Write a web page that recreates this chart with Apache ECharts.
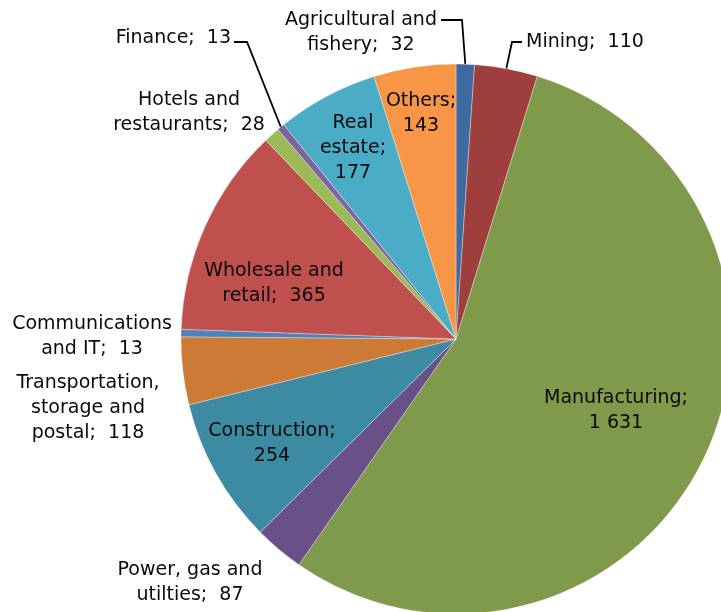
<!DOCTYPE html>
<html>
<head>
<meta charset="utf-8">
<script src="https://cdn.jsdelivr.net/npm/echarts@6/dist/echarts.min.js"></script>
<style>
html,body{margin:0;padding:0;background:#fff;}
#chart{width:721px;height:612px;}
</style>
</head>
<body>
<div id="chart"></div>
<script>
// Data (clockwise from 12 o'clock)
var categories = [
  "Agricultural and\nfishery", "Mining", "Manufacturing", "Power, gas and\nutilties",
  "Construction", "Transportation,\nstorage and\npostal", "Communications\nand IT",
  "Wholesale and\nretail", "Hotels and\nrestaurants", "Finance", "Real\nestate", "Others"
];
var values = [32, 110, 1631, 87, 254, 118, 13, 365, 28, 13, 177, 143];
var colors = ["#3E6A9F", "#9E3F3E", "#7F9A4A", "#6A5088", "#3C8BA3", "#CD7A37",
              "#4F81BD", "#C0504D", "#9BBB59", "#8064A2", "#4BACC6", "#F79646"];
// Items whose value goes on its own line
var valueOnNewLine = [false, false, true, false, true, false, false, false, false, false, true, true];
// Items whose labels are drawn with leader lines
var withLine = [true, true, false, false, false, false, false, false, false, true, false, false];

// Label placement (x, y, align)
var labelPos = [
  [361, 33, 'center'], [526, 42, 'left'], [616, 411, 'center'], [190, 583, 'center'],
  [272, 444, 'center'], [88, 408, 'center'], [92, 337, 'center'], [274, 284, 'center'],
  [189, 113, 'center'], [231, 38, 'right'], [353, 148, 'center'], [421, 114, 'center']
];
// leader line bends: [bendX, bendY, endX]
var linePath = {0: [462, 20, 441], 1: [512, 42, 522], 9: [247, 42, 234]};

function fmt(v) {
  var s = String(v);
  return s.replace(/\B(?=(\d{3})+(?!\d))/g, ' ');
}

var data = categories.map(function (c, i) {
  return {
    name: c,
    value: values[i],
    itemStyle: {color: colors[i]},
    label: {position: withLine[i] ? 'outside' : 'inside'},
    labelLine: {show: withLine[i]}
  };
});

var chart = echarts.init(document.getElementById('chart'), null, {renderer: 'canvas'});
chart.setOption({
  animation: false,
  backgroundColor: '#ffffff',
  series: [{
    type: 'pie',
    center: [456, 339],
    radius: [0, 275],
    startAngle: 90,
    clockwise: true,
    avoidLabelOverlap: false,
    data: data,
    itemStyle: {borderColor: 'rgba(255,255,255,0.55)', borderWidth: 0.6},
    label: {
      show: true,
      color: '#0a0a0a',
      fontFamily: 'DejaVu Sans',
      fontSize: 19,
      lineHeight: 25,
      formatter: function (p) {
        var i = p.dataIndex;
        return p.name + ';' + (valueOnNewLine[i] ? '\n' : '  ') + fmt(p.value);
      }
    },
    labelLine: {
      show: false,
      lineStyle: {color: '#000', width: 1.8}
    },
    emphasis: {disabled: true},
    labelLayout: function (params) {
      var i = params.dataIndex;
      var lp = labelPos[i];
      var out = {x: lp[0], y: lp[1], align: lp[2], verticalAlign: 'middle', width: 260};
      if (linePath[i] && params.labelLinePoints) {
        var s = params.labelLinePoints[0];
        var b = linePath[i];
        out.labelLinePoints = [[s[0], s[1]], [b[0], b[1]], [b[2], b[1]]];
      }
      return out;
    }
  }]
});
</script>
</body>
</html>
